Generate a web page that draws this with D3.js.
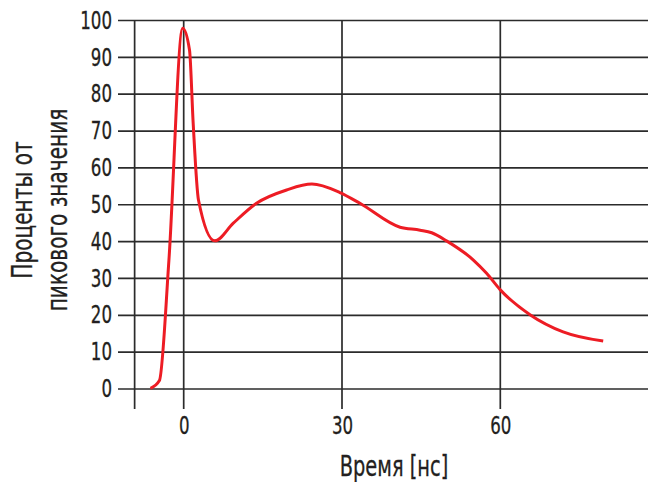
<!DOCTYPE html>
<html>
<head>
<meta charset="utf-8">
<script src="https://cdn.jsdelivr.net/npm/d3@7"></script>
<style>
  body { margin: 0; background: #fff; }
  text { font-family: "Liberation Sans Narrow", "DejaVu Sans Condensed", sans-serif; fill: #231f20; stroke: #231f20; stroke-width: 0.3px; }
</style>
</head>
<body>
<div id="chart"></div>
<script>
// data: time in ns, percent of peak
let timeNs = [-6.3, -4.6, -2.8, -0.2, 1.1, 1.8, 2.8, 5.9, 9.4, 13.8, 19.5, 24.3, 29.6, 33.4, 41, 44.8, 47, 49.8, 54.9, 57.4, 60, 65.7, 71.9, 79.5];
let percent = [0.2, 2.3, 35, 97.9, 92, 72, 51.3, 40.2, 45, 50.4, 54, 55.6, 53.3, 50.4, 43.9, 43.1, 42.4, 40.2, 35, 31.4, 26.9, 20.1, 15.5, 13];

let xTicks = [0, 30, 60];
let yTicks = [0, 10, 20, 30, 40, 50, 60, 70, 80, 90, 100];
let xLabel = "Время [нс]";
let yLabelLines = ["Проценты от", "пикового значения"];

let width = 648, height = 482;
let gridColor = "#2b2b2b";
let squeeze = 0.77;   // the original font is narrower than anything installed

let svg = d3.select("#chart")
    .append("svg")
    .attr("width", width)
    .attr("height", height);

let x = d3.scaleLinear().domain([0, 60]).range([183.7, 500.3]);
let y = d3.scaleLinear().domain([0, 100]).range([389, 20.5]);

let xLeft = x(-9.3);      // left border line
let yBottom = y(-5.4);    // bottom end of vertical lines

// make text narrower without changing its height
function condense(sel) {
    sel.each(function() {
        let len = this.getComputedTextLength();
        d3.select(this)
            .attr("textLength", len * squeeze)
            .attr("lengthAdjust", "spacingAndGlyphs");
    });
}

// horizontal grid lines (run a bit left of the border as ticks)
svg.append("g")
    .selectAll("line")
    .data(yTicks)
    .enter()
    .append("line")
    .attr("x1", 118)
    .attr("x2", width)
    .attr("y1", function(d) { return y(d); })
    .attr("y2", function(d) { return y(d); })
    .attr("stroke", gridColor)
    .attr("stroke-width", 1.7);

// vertical lines: border + x ticks
svg.append("g")
    .selectAll("line")
    .data([xLeft].concat(xTicks.map(function(d) { return x(d); })))
    .enter()
    .append("line")
    .attr("x1", function(d) { return d; })
    .attr("x2", function(d) { return d; })
    .attr("y1", y(100))
    .attr("y2", yBottom)
    .attr("stroke", gridColor)
    .attr("stroke-width", 1.7);

// y tick labels
let yAxis = svg.append("g")
    .attr("transform", "translate(118,0)")
    .call(d3.axisLeft(y).tickValues(yTicks).tickSize(0).tickPadding(6));
yAxis.select(".domain").remove();
yAxis.selectAll("text")
    .style("font-size", "24px")
    .style("font-family", null)
    .call(condense);

// x tick labels
let xAxis = svg.append("g")
    .attr("transform", "translate(0," + yBottom + ")")
    .call(d3.axisBottom(x).tickValues(xTicks).tickSize(0).tickPadding(8));
xAxis.select(".domain").remove();
xAxis.selectAll("text")
    .style("font-size", "24px")
    .style("font-family", null)
    .call(condense);

// axis titles
svg.append("text")
    .attr("x", 394)
    .attr("y", 476)
    .style("text-anchor", "middle")
    .style("font-size", "28px")
    .text(xLabel)
    .call(condense);

let yTitle = svg.append("text")
    .attr("transform", "translate(0,210) rotate(-90)")
    .style("text-anchor", "middle")
    .style("font-size", "29px");
yTitle.selectAll("tspan")
    .data(yLabelLines)
    .enter()
    .append("tspan")
    .attr("x", 0)
    .attr("y", function(d, i) { return 32 + i * 35; })
    .text(function(d) { return d; })
    .call(condense);

// the curve
let line = d3.line()
    .x(function(d) { return x(d[0]); })
    .y(function(d) { return y(d[1]); })
    .curve(d3.curveMonotoneX);

svg.append("path")
    .datum(d3.zip(timeNs, percent))
    .attr("d", line)
    .attr("fill", "none")
    .attr("stroke", "#ed1c24")
    .attr("stroke-width", 3)
    .attr("stroke-linejoin", "round");
</script>
</body>
</html>
